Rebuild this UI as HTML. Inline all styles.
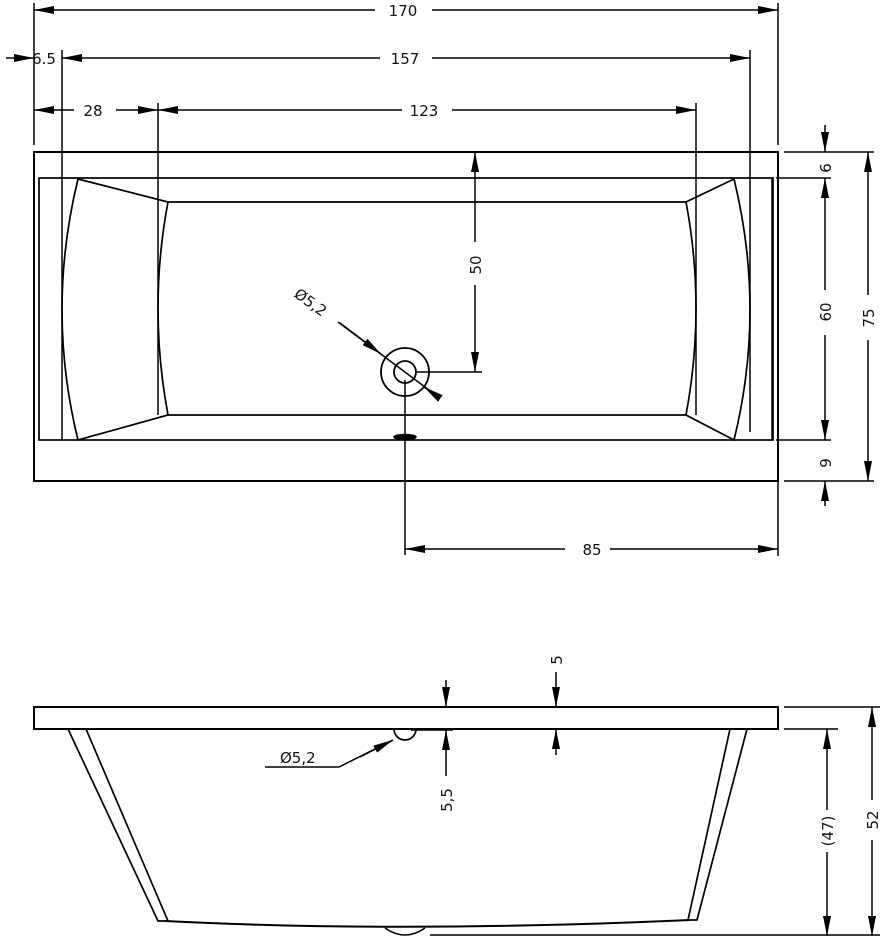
<!DOCTYPE html>
<html><head><meta charset="utf-8"><style>
html,body{margin:0;padding:0;background:#fff;}
svg{display:block;}
text{font-family:"DejaVu Sans","Liberation Sans",sans-serif;font-size:15px;fill:#111;}
</style></head><body>
<svg width="880" height="936" viewBox="0 0 880 936" xmlns="http://www.w3.org/2000/svg">
<defs>
<marker id="a" viewBox="0 0 20 8" refX="20" refY="4" markerWidth="20" markerHeight="8" markerUnits="userSpaceOnUse" orient="auto-start-reverse"><path d="M0,0 L20,4 L0,8 Z" fill="#000"/></marker>
</defs>
<g stroke="#000" stroke-width="1.5" fill="none">
<rect x="34" y="152" width="744" height="329" stroke-width="2"/>
<rect x="39" y="178" width="734" height="262" stroke-width="1.7"/>
<line x1="168" y1="202" x2="686" y2="202" stroke-width="1.7"/>
<line x1="168" y1="415" x2="686" y2="415" stroke-width="1.7"/>
<path d="M78,179 L168,202 Q148,308 168,415 L78,440 Q46,310 78,179 Z" stroke-width="1.7"/>
<path d="M734,179 L686,202 Q706,308 686,415 L734,440 Q766,310 734,179 Z" stroke-width="1.7"/>
<line x1="772" y1="178" x2="772" y2="440"/>
<circle cx="405" cy="372" r="24" stroke-width="1.8"/>
<circle cx="405" cy="372" r="11" stroke-width="1.8"/>
<ellipse cx="405" cy="437" rx="11" ry="2.5" fill="#000"/>
<line x1="405" y1="380" x2="405" y2="555"/>
<line x1="417" y1="372" x2="482" y2="372"/>
<line x1="338" y1="322" x2="437" y2="396"/>
<line x1="340" y1="323" x2="381" y2="354" marker-end="url(#a)"/>
<line x1="434" y1="394" x2="424" y2="387" marker-end="url(#a)"/>
<line x1="34" y1="3" x2="34" y2="145"/>
<line x1="778" y1="3" x2="778" y2="145"/>
<line x1="62" y1="50" x2="62" y2="440"/>
<line x1="750" y1="50" x2="750" y2="432"/>
<line x1="158" y1="103" x2="158" y2="415"/>
<line x1="696" y1="103" x2="696" y2="415"/>
<line x1="34" y1="10" x2="375" y2="10" marker-start="url(#a)"/>
<line x1="432" y1="10" x2="778" y2="10" marker-end="url(#a)"/>
<line x1="6" y1="58" x2="34" y2="58" marker-end="url(#a)"/>
<line x1="62" y1="58" x2="380" y2="58" marker-start="url(#a)"/>
<line x1="432" y1="58" x2="750" y2="58" marker-end="url(#a)"/>
<line x1="34" y1="110" x2="74" y2="110" marker-start="url(#a)"/>
<line x1="116" y1="110" x2="158" y2="110" marker-end="url(#a)"/>
<line x1="158" y1="110" x2="402" y2="110" marker-start="url(#a)"/>
<line x1="452" y1="110" x2="696" y2="110" marker-end="url(#a)"/>
<line x1="475" y1="152" x2="475" y2="242" marker-start="url(#a)"/>
<line x1="475" y1="285" x2="475" y2="372" marker-end="url(#a)"/>
<line x1="784" y1="152" x2="874" y2="152"/>
<line x1="776" y1="178" x2="831" y2="178"/>
<line x1="776" y1="440" x2="831" y2="440"/>
<line x1="784" y1="481" x2="874" y2="481"/>
<line x1="825" y1="125" x2="825" y2="152" marker-end="url(#a)"/>
<line x1="825" y1="178" x2="825" y2="290" marker-start="url(#a)"/>
<line x1="825" y1="335" x2="825" y2="440" marker-end="url(#a)"/>
<line x1="825" y1="506" x2="825" y2="481" marker-end="url(#a)"/>
<line x1="868" y1="152" x2="868" y2="295" marker-start="url(#a)"/>
<line x1="868" y1="340" x2="868" y2="481" marker-end="url(#a)"/>
<line x1="778" y1="481" x2="778" y2="556"/>
<line x1="405" y1="549" x2="565" y2="549" marker-start="url(#a)"/>
<line x1="610" y1="549" x2="778" y2="549" marker-end="url(#a)"/>
<rect x="34" y="707" width="744" height="22" stroke-width="2"/>
<path d="M68,729 L158,921 L168,921 L86,729" stroke-width="1.7"/>
<path d="M747,729 L697,920 L688,920 L730,729" stroke-width="1.7"/>
<path d="M165,921 Q400,933 690,920" stroke-width="2"/>
<path d="M385,928 Q405,942 425,928" stroke-width="1.5"/>
<path d="M394,729 A11,11 0 0 0 416,729" stroke-width="1.7"/>
<line x1="411" y1="730" x2="453" y2="730"/>
<polyline points="265,767 339,767 393,740"/>
<line x1="360" y1="757" x2="393" y2="740" marker-end="url(#a)"/>
<line x1="446" y1="680" x2="446" y2="707" marker-end="url(#a)"/>
<line x1="446" y1="776" x2="446" y2="730" marker-end="url(#a)"/>
<line x1="556" y1="672" x2="556" y2="707" marker-end="url(#a)"/>
<line x1="556" y1="755" x2="556" y2="729" marker-end="url(#a)"/>
<line x1="784" y1="707" x2="880" y2="707"/>
<line x1="784" y1="729" x2="838" y2="729"/>
<line x1="827" y1="729" x2="827" y2="810" marker-start="url(#a)"/>
<line x1="827" y1="852" x2="827" y2="936" marker-end="url(#a)"/>
<line x1="872" y1="707" x2="872" y2="800" marker-start="url(#a)"/>
<line x1="872" y1="840" x2="872" y2="936" marker-end="url(#a)"/>
<line x1="430" y1="935" x2="880" y2="935"/>
</g>
<g>
<text x="403" y="16" text-anchor="middle">170</text>
<text x="405" y="64" text-anchor="middle">157</text>
<text x="44" y="64" text-anchor="middle">6.5</text>
<text x="93" y="116" text-anchor="middle">28</text>
<text x="424" y="116" text-anchor="middle">123</text>
<text x="592" y="555" text-anchor="middle">85</text>
<text transform="translate(481,265) rotate(-90)" text-anchor="middle">50</text>
<text transform="translate(831,168) rotate(-90)" text-anchor="middle">6</text>
<text transform="translate(831,312) rotate(-90)" text-anchor="middle">60</text>
<text transform="translate(831,463) rotate(-90)" text-anchor="middle">9</text>
<text transform="translate(874,318) rotate(-90)" text-anchor="middle">75</text>
<text transform="translate(293,296) rotate(36)">Ø5,2</text>
<text x="280" y="763">Ø5,2</text>
<text transform="translate(452,800) rotate(-90)" text-anchor="middle">5,5</text>
<text transform="translate(562,660) rotate(-90)" text-anchor="middle">5</text>
<text transform="translate(833,831) rotate(-90)" text-anchor="middle">(47)</text>
<text transform="translate(878,820) rotate(-90)" text-anchor="middle">52</text>
</g>
</svg>
</body></html>
